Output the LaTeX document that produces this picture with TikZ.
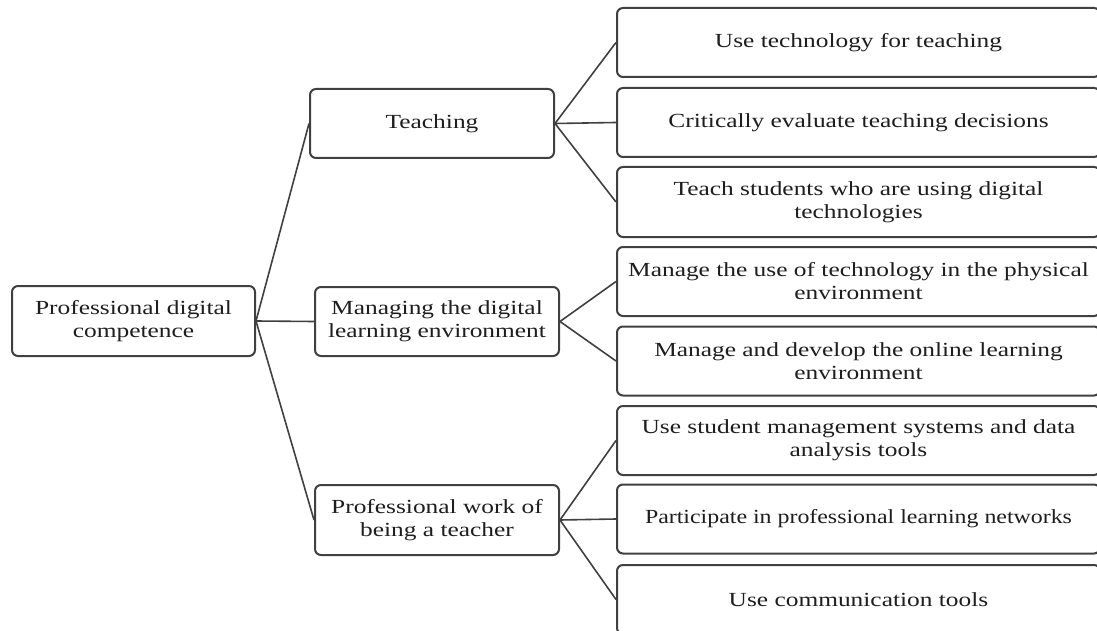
\documentclass[tikz,border=0pt]{standalone}
\usepackage{fontspec}
\setmainfont[FakeStretch=1.27]{Liberation Serif}
\definecolor{edge}{HTML}{404040}
\definecolor{ink}{HTML}{1E1E1E}
\begin{document}
\begin{tikzpicture}[x=1pt,y=-1pt,
  box/.style={draw=edge,line width=2pt,rounded corners=6pt,fill=white,text=ink,
    align=center,inner sep=0pt,font=\fontsize{20}{23}\selectfont},
  midbox/.style={box,minimum width=244pt,minimum height=69pt},
  leaf/.style={box,minimum width=483pt,minimum height=69pt},
  link/.style={draw=edge,line width=1.6pt}]
\useasboundingbox (0,0) rectangle (1097,631);
\node[box,minimum width=243pt,minimum height=70pt] (root) at (133.5,321) {Professional digital\\competence};
\node[midbox] (teach) at (432,123.5) {Teaching};
\node[midbox] (manage) at (437,321.5) {Managing the digital\\learning environment};
\node[midbox,minimum height=70pt] (prof) at (437,520) {Professional work of\\being a teacher};
\node[leaf] (l1) at (858.5,42.5) {Use technology for teaching};
\node[leaf] (l2) at (858.5,122.5) {Critically evaluate teaching decisions};
\node[leaf,minimum height=70pt] (l3) at (858.5,202) {Teach students who are using digital\\technologies};
\node[leaf] (l4) at (858.5,281.5) {Manage the use of technology in the physical\\environment};
\node[leaf] (l5) at (858.5,361) {Manage and develop the online learning\\environment};
\node[leaf] (l6) at (858.5,440.5) {Use student management systems and data\\analysis tools};
\node[leaf] (l7) at (858.5,519) {\scalebox{0.94}[1]{Participate in professional learning networks}};
\node[leaf] (l8) at (858.5,599.5) {Use communication tools};
\draw[link] (root.east) -- (teach.west);
\draw[link] (root.east) -- (manage.west);
\draw[link] (root.east) -- (prof.west);
\draw[link] (teach.east) -- (l1.west);
\draw[link] (teach.east) -- (l2.west);
\draw[link] (teach.east) -- (l3.west);
\draw[link] (manage.east) -- (l4.west);
\draw[link] (manage.east) -- (l5.west);
\draw[link] (prof.east) -- (l6.west);
\draw[link] (prof.east) -- (l7.west);
\draw[link] (prof.east) -- (l8.west);
\end{tikzpicture}
\end{document}
